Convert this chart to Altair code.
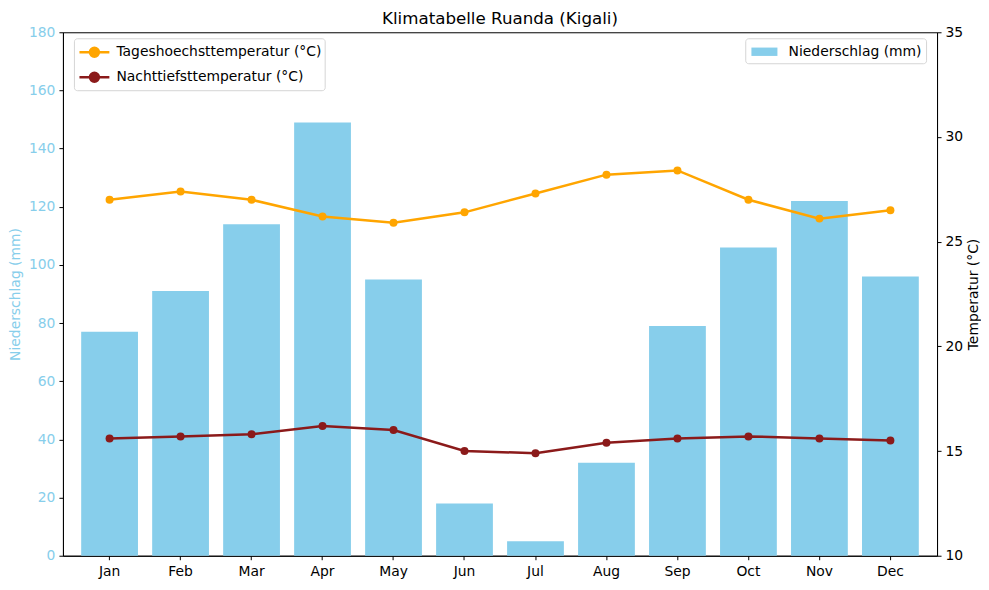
import altair as alt
import pandas as pd

months = ["Jan", "Feb", "Mar", "Apr", "May", "Jun", "Jul", "Aug", "Sep", "Oct", "Nov", "Dec"]
precip = [77, 91, 114, 149, 95, 18, 5, 32, 79, 106, 122, 96]
t_max = [27.0, 27.4, 27.0, 26.2, 25.9, 26.4, 27.3, 28.2, 28.4, 27.0, 26.1, 26.5]
t_min = [15.6, 15.7, 15.8, 16.2, 16.0, 15.0, 14.9, 15.4, 15.6, 15.7, 15.6, 15.5]

lbl_p = "Niederschlag (mm)"
lbl_max = "Tageshoechsttemperatur (°C)"
lbl_min = "Nachttiefsttemperatur (°C)"

df = pd.DataFrame({"Monat": months, "precip": precip, "lp": lbl_p})
df[lbl_max] = t_max
df[lbl_min] = t_min

FONT = "DejaVu Sans"
SKY = "#87CEEB"
FS = 13.9

x_enc = alt.X("Monat:N", sort=months, title=None,
              scale=alt.Scale(paddingInner=0.2, paddingOuter=0.257),
              axis=alt.Axis(labelAngle=0, labelFontSize=FS, labelColor="black",
                            tickColor="black", domainColor="black", tickSize=4, labelPadding=5))

rect_sym = "M-1.4,-0.45H1.4V0.45H-1.4Z"
bars = alt.Chart(df).mark_bar().encode(
    x=x_enc,
    y=alt.Y("precip:Q", title="Niederschlag (mm)",
            scale=alt.Scale(domain=[0, 180], nice=False),
            axis=alt.Axis(values=list(range(0, 181, 20)), orient="left", grid=False,
                          labelColor=SKY, titleColor=SKY, labelFontSize=FS, titleFontSize=FS,
                          titleFontWeight="normal", tickColor="black", domainColor="black",
                          tickSize=4, labelPadding=4, titlePadding=6)),
    color=alt.Color("lp:N", scale=alt.Scale(domain=[lbl_p], range=[SKY]),
                    legend=alt.Legend(title=None, orient="none", legendX=683, legendY=6,
                                      symbolType=rect_sym,
                                      symbolSize=346, labelFontSize=FS,
                                      padding=4, fillColor="white", strokeColor="#d5d5d5",
                                      cornerRadius=3, symbolStrokeWidth=0, symbolOffset=5.7,
                                      labelOffset=14.7, labelLimit=300)),
)

sym = ("M-1.6,0L1.6,0"
       "M-0.48,0a0.48,0.48 0 1,0 0.96,0a0.48,0.48 0 1,0 -0.96,0"
       "M-0.33,0a0.33,0.33 0 1,0 0.66,0a0.33,0.33 0 1,0 -0.66,0"
       "M-0.17,0a0.17,0.17 0 1,0 0.34,0a0.17,0.17 0 1,0 -0.34,0")

lines = alt.Chart(df).transform_fold([lbl_max, lbl_min], as_=["Serie", "Wert"]).mark_line(
    strokeWidth=2.5, point=alt.OverlayMarkDef(size=64, filled=True, opacity=1)
).encode(
    x=x_enc,
    y=alt.Y("Wert:Q", title="Temperatur (°C)",
            scale=alt.Scale(domain=[10, 35], nice=False, zero=False),
            axis=alt.Axis(values=list(range(10, 36, 5)), orient="right", grid=False,
                          labelColor="black", titleColor="black", labelFontSize=FS,
                          titleFontSize=FS, titleFontWeight="normal", tickColor="black",
                          domainColor="black", tickSize=4, labelPadding=4, titlePadding=4,
                          titleAngle=270, titleBaseline="top")),
    color=alt.Color("Serie:N", sort=[lbl_max, lbl_min],
                    scale=alt.Scale(domain=[lbl_max, lbl_min], range=["#FFA500", "#8B1A1A"]),
                    legend=alt.Legend(title=None, orient="none", legendX=11, legendY=6,
                                      symbolType=sym,
                                      symbolSize=350, symbolStrokeWidth=2.5, labelFontSize=FS,
                                      padding=3, rowPadding=4, fillColor="white",
                                      strokeColor="#d5d5d5", cornerRadius=3, symbolOffset=6.5,
                                      labelOffset=11, labelLimit=300)),
    detail="Serie:N",
)

chart = alt.layer(bars, lines).resolve_scale(
    y="independent", color="independent"
).resolve_legend(color="independent").properties(
    width=875, height=524,
    padding={"left": 0, "top": 2, "right": 0, "bottom": 0},
    title=alt.TitleParams("Klimatabelle Ruanda (Kigali)", fontSize=16.7, fontWeight="normal",
                          font=FONT, color="black", offset=-2),
).configure(font=FONT).configure_view(stroke="black", strokeWidth=1).configure_axis(
    labelFont=FONT, titleFont=FONT
).configure_legend(labelFont=FONT, labelColor="black")

chart.save("out.html", embed_options={"renderer": "svg", "actions": False})
